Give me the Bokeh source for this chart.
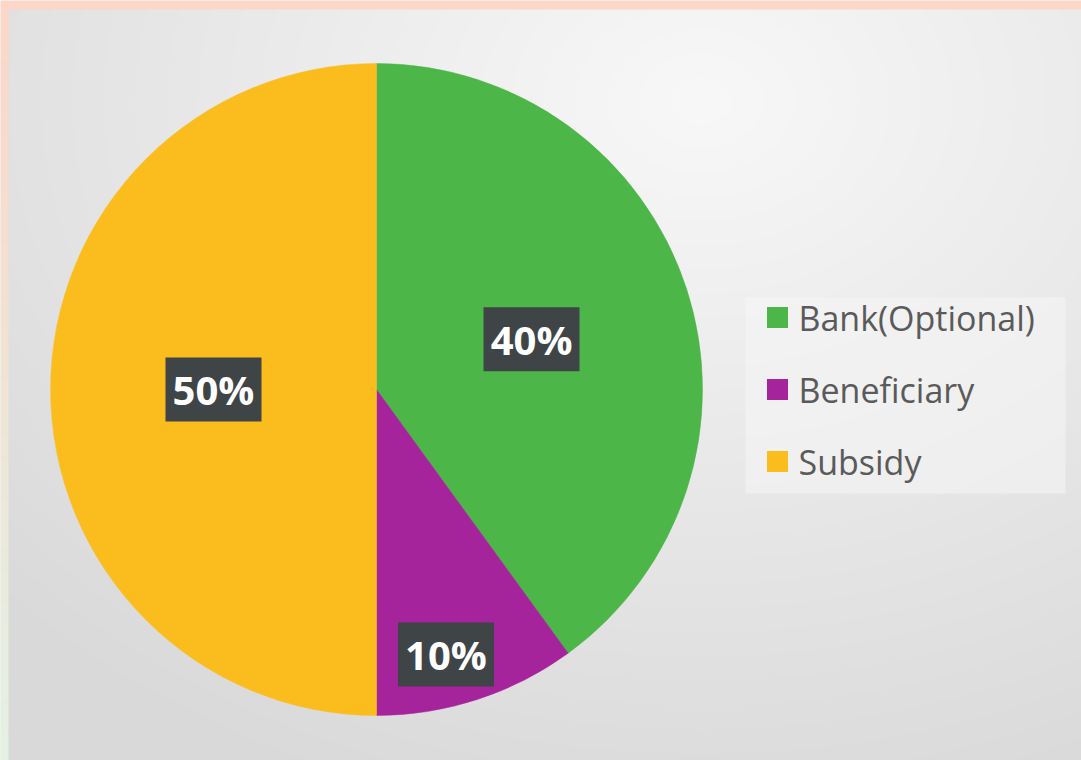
import numpy as np
from bokeh.plotting import figure
from bokeh.models import ColumnDataSource, Range1d
from bokeh.core.properties import value
from bokeh.embed import file_html
from bokeh.resources import INLINE

# ---- data ----
categories = ["Bank(Optional)", "Beneficiary", "Subsidy"]
shares = [40, 10, 50]
pct_labels = ["40%", "10%", "50%"]

# ---- styles ----
colors = ["#4cb648", "#a5239b", "#fbbd1e"]

W, H = 1081, 760


def sy(y):
    return H - y


p = figure(width=W, height=H, x_range=Range1d(0, W), y_range=Range1d(0, H),
           x_axis_type=None, y_axis_type=None, toolbar_location=None,
           output_backend="svg", min_border=0)
p.outline_line_color = None
p.background_fill_color = "#e6e6e6"
p.border_fill_color = "#e6e6e6"

# ---- background (frame + soft gradient panel) ----
yy, xx = np.mgrid[0:H, 0:W].astype(float)
d = np.sqrt(((xx - 700) / 1.3) ** 2 + (yy - 100) ** 2)
v = 248 - 31 * np.clip(d / 750, 0, 1)
img = np.zeros((H, W, 4), dtype=np.uint8)
img[..., 0] = v
img[..., 1] = v
img[..., 2] = v
img[..., 3] = 255
# top pink band
img[:9, :, 0] = 253
img[:9, :, 1] = 214
img[:9, :, 2] = 199
# left band: pink -> light green
t = np.linspace(0, 1, H)[:, None]
top_c = np.array([253, 214, 199])
bot_c = np.array([228, 242, 228])
band = (top_c[None, :] * (1 - t) + bot_c[None, :] * t).astype(np.uint8)
img[:, :8, 0] = band[:, 0:1]
img[:, :8, 1] = band[:, 1:2]
img[:, :8, 2] = band[:, 2:3]
img32 = np.flipud(img).copy().view(dtype=np.uint32).reshape((H, W))
p.image_rgba(image=[img32], x=0, y=0, dw=W, dh=H)

# ---- pie ----
cx, cy, R = 376, sy(389), 326
total = float(sum(shares))
cum = np.cumsum([0] + shares)
start = [np.pi / 2 - 2 * np.pi * c / total for c in cum[:-1]]
end = [np.pi / 2 - 2 * np.pi * c / total for c in cum[1:]]

src = ColumnDataSource(dict(cat=categories, share=shares, start=start, end=end,
                            color=colors))
p.wedge(x=cx, y=cy, radius=R, start_angle="start", end_angle="end",
        direction="clock", fill_color="color", line_color="color",
        line_width=0.5, source=src)

# ---- data labels ----
label_frac = [0.50, 0.84, 0.50]
label_dtheta = [0.0, np.radians(-3.3), 0.0]
mid = [(s + e) / 2 + dt for s, e, dt in zip(start, end, label_dtheta)]
lx = [cx + f * R * np.cos(m) for f, m in zip(label_frac, mid)]
ly = [cy + f * R * np.sin(m) for f, m in zip(label_frac, mid)]
lsrc = ColumnDataSource(dict(x=lx, y=ly, t=pct_labels))
p.rect(x="x", y="y", width=96, height=64, fill_color="#3f4447",
       line_color=None, source=lsrc)
p.text(x="x", y="y", text="t", text_font=value("Open Sans"),
       text_font_style="bold", text_font_size="40px", text_color="white",
       text_align="center", text_baseline="middle", source=lsrc)

# ---- legend ----
p.rect(x=(745 + 1065) / 2, y=sy(395), width=320, height=196,
       fill_color="#f6f6f6", fill_alpha=0.55, line_color=None)
row0, step = 317, 72
gy = [sy(row0 + i * step) for i in range(len(categories))]
gsrc = ColumnDataSource(dict(y=gy, cat=categories, color=colors))
p.rect(x=777, y="y", width=21, height=21, fill_color="color",
       line_color=None, source=gsrc)
p.text(x=798, y="y", text="cat", text_font=value("Open Sans"),
       text_font_size="34px", text_color="#5a5a5a", text_align="left",
       text_baseline="middle", source=gsrc)

open("out.html", "w").write(file_html(p, INLINE))
